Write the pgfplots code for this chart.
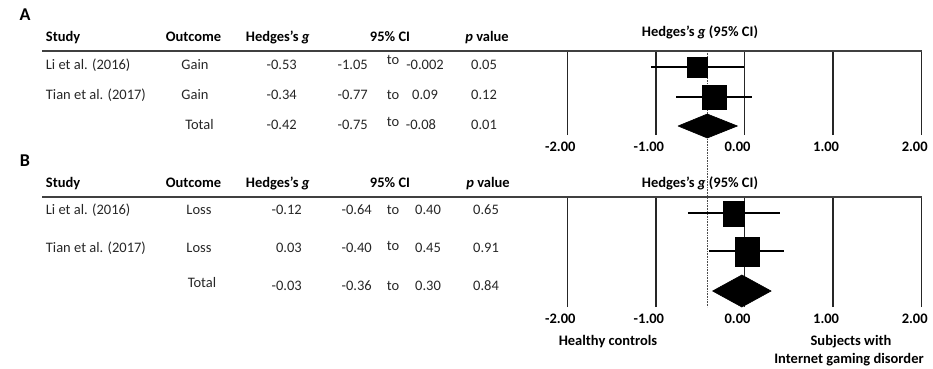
\documentclass[border=0pt]{standalone}
\usepackage{fontspec}
\setmainfont{Carlito}
\usepackage{pgfplots}
\pgfplotsset{compat=1.18}

\pgfplotsset{
  forest/.style={
    x=88.6pt, y=1pt,
    xmin=-2, xmax=2,
    clip=false,
    anchor=north west,
    axis line style={draw=none},
    major tick length=0pt,
    ytick=\empty,
    xtick={-2,-1,0,1,2},
    xticklabels={\textbf{-2.00},\textbf{-1.00},\textbf{0.00},\textbf{1.00},\textbf{2.00}},
    xticklabel style={xshift=-7pt, yshift=-3pt, font=\fontsize{14.5}{16}\selectfont},
    xmajorgrids,
    major grid style={black!85, line width=1.4pt},
  },
  ci/.style={black, line width=1.6pt},
  est/.style={only marks, mark=square*, black},
  pooled/.style={fill=black, draw=black, line width=0.6pt},
}

\tikzset{
  hd/.style={anchor=mid, inner sep=0pt, font=\fontsize{14.5}{16}\selectfont\bfseries},
  tx/.style={anchor=mid, inner sep=0pt, text=black!85},
  panel/.style={anchor=mid, inner sep=0pt, font=\fontsize{18}{20}\selectfont\bfseries},
}

\begin{document}
\begin{tikzpicture}[x=1pt, y=1pt, font=\fontsize{14.5}{16}\selectfont]
\path (0,0) rectangle (933,-368);

% ---------- Panel A: gain ----------
\begin{axis}[forest, at={(567.3pt,-51pt)}, ymin=-135, ymax=-51]
  % pooled-effect reference line (runs through both panels)
  \addplot[densely dotted, black!70, line width=0.6pt] coordinates {(-0.42,-51) (-0.42,-307)};
  \addplot[ci] coordinates {(-1.05,-67) (-0.002,-67)};
  \addplot[ci] coordinates {(-0.77,-97) (0.09,-97)};
  \addplot[est, mark size=10pt] coordinates {(-0.53,-67)};
  \addplot[est, mark size=12pt] coordinates {(-0.34,-97)};
  \addplot[pooled] coordinates {(-0.75,-126) (-0.42,-114) (-0.08,-126) (-0.42,-138) (-0.75,-126)};
\end{axis}

% ---------- Panel B: loss ----------
\begin{axis}[forest, at={(567.3pt,-197pt)}, ymin=-307, ymax=-197]
  \addplot[ci] coordinates {(-0.64,-213) (0.40,-213)};
  \addplot[ci] coordinates {(-0.40,-251) (0.45,-251)};
  \addplot[est, mark size=10.5pt, mark options={yscale=1.2}] coordinates {(-0.12,-214)};
  \addplot[est, mark size=12pt, mark options={yscale=1.2}] coordinates {(0.03,-252)};
  \addplot[pooled] coordinates {(-0.36,-291) (-0.03,-275) (0.30,-291) (-0.03,-307) (-0.36,-291)};
\end{axis}

% header rules
\draw[line width=1.6pt, black!75] (42,-51) -- (921.7,-51);
\draw[line width=1.6pt, black!75] (42,-197) -- (921.7,-197);

% ---------- table A ----------
\node[panel] at (25,-18) {A};
\node[hd, anchor=mid west] at (45.7,-39) {Study};
\node[hd] at (193.5,-39) {Outcome};
\node[hd] at (277.7,-39) {Hedges's \textit{g}};
\node[hd] at (390,-39) {95\% CI};
\node[hd] at (487,-39) {\textit{p} value};
\node[hd] at (700,-34) {Hedges's \textit{g} (95\% CI)};

\node[tx, anchor=mid west] at (45.7,-67) {Li et al. (2016)};
\node[tx] at (195,-67) {Gain};
\node[tx, anchor=mid east] at (297,-67) {-0.53};
\node[tx, anchor=mid east] at (368,-67) {-1.05};
\node[tx] at (393,-62) {to};
\node[tx] at (425,-67) {-0.002};
\node[tx] at (484,-67) {0.05};

\node[tx, anchor=mid west] at (45.7,-97) {Tian et al. (2017)};
\node[tx] at (195,-97) {Gain};
\node[tx, anchor=mid east] at (297,-97) {-0.34};
\node[tx, anchor=mid east] at (368,-97) {-0.77};
\node[tx] at (393,-97) {to};
\node[tx] at (425,-97) {0.09};
\node[tx] at (484,-97) {0.12};

\node[tx] at (199.5,-127) {Total};
\node[tx, anchor=mid east] at (297,-127) {-0.42};
\node[tx, anchor=mid east] at (368,-127) {-0.75};
\node[tx] at (393,-124) {to};
\node[tx] at (421,-127) {-0.08};
\node[tx] at (484,-127) {0.01};

% ---------- table B ----------
\node[panel] at (25,-164) {B};
\node[hd, anchor=mid west] at (45.7,-185) {Study};
\node[hd] at (193.5,-185) {Outcome};
\node[hd] at (277.7,-185) {Hedges's \textit{g}};
\node[hd] at (390,-185) {95\% CI};
\node[hd] at (488,-185) {\textit{p} value};
\node[hd] at (700,-185) {Hedges's \textit{g} (95\% CI)};

\node[tx, anchor=mid west] at (45.7,-212) {Li et al. (2016)};
\node[tx] at (199,-212) {Loss};
\node[tx, anchor=mid east] at (302,-212) {-0.12};
\node[tx, anchor=mid east] at (372,-212) {-0.64};
\node[tx] at (393,-212) {to};
\node[tx] at (428,-212) {0.40};
\node[tx] at (486,-212) {0.65};

\node[tx, anchor=mid west] at (45.7,-250) {Tian et al. (2017)};
\node[tx] at (199,-250) {Loss};
\node[tx, anchor=mid east] at (302,-250) {0.03};
\node[tx, anchor=mid east] at (372,-250) {-0.40};
\node[tx] at (393,-248) {to};
\node[tx] at (428,-250) {0.45};
\node[tx] at (486,-250) {0.91};

\node[tx] at (202,-285) {Total};
\node[tx, anchor=mid east] at (302,-288) {-0.03};
\node[tx, anchor=mid east] at (372,-288) {-0.36};
\node[tx] at (393,-288) {to};
\node[tx] at (428,-288) {0.30};
\node[tx] at (486,-288) {0.84};

% direction labels
\node[hd] at (608,-343) {Healthy controls};
\node[hd] at (851,-343) {Subjects with};
\node[hd] at (849,-361) {Internet gaming disorder};
\end{tikzpicture}
\end{document}
